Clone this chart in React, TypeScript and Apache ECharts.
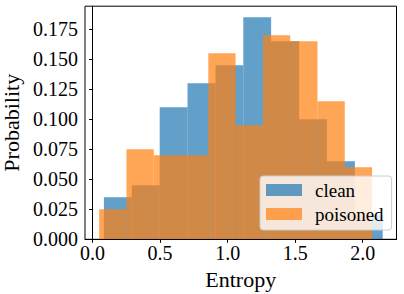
import React, { useEffect, useRef } from "react";
import * as echarts from "echarts";

// Histogram bin edges (Entropy) and bin heights (Probability)
const cleanEdges = [0.084, 0.290, 0.497, 0.703, 0.910, 1.116, 1.322, 1.529, 1.735, 1.942, 2.148];
const cleanValues = [0.035, 0.045, 0.110, 0.130, 0.145, 0.185, 0.165, 0.100, 0.065, 0.020];
const poisonedEdges = [0.049, 0.251, 0.453, 0.655, 0.857, 1.059, 1.261, 1.463, 1.665, 1.867, 2.069];
const poisonedValues = [0.025, 0.075, 0.070, 0.070, 0.155, 0.095, 0.170, 0.165, 0.115, 0.060];

const xTicks = [0.0, 0.5, 1.0, 1.5, 2.0];
const yTicks = [0.0, 0.025, 0.05, 0.075, 0.1, 0.125, 0.15, 0.175];

const FONT = "'Liberation Serif', 'Times New Roman', serif";

function binsOf(edges: number[], values: number[]) {
  return values.map((v, i) => [edges[i], edges[i + 1], v]);
}

function histSeries(name: string, color: string, edges: number[], values: number[]) {
  return {
    type: "custom",
    name,
    clip: true,
    itemStyle: { color },
    encode: { x: [0, 1], y: 2 },
    data: binsOf(edges, values),
    renderItem: (_params: any, api: any) => {
      const x0 = api.value(0);
      const x1 = api.value(1);
      const h = api.value(2);
      const pTop = api.coord([x0, h]);
      const pBot = api.coord([x1, 0]);
      return {
        type: "rect",
        shape: {
          x: pTop[0],
          y: pTop[1],
          width: pBot[0] - pTop[0],
          height: pBot[1] - pTop[1],
        },
        style: { fill: color },
      };
    },
  };
}

export default function App() {
  const ref = useRef<HTMLDivElement>(null);
  useEffect(() => {
    if (!ref.current) return;
    const chart = echarts.init(ref.current, undefined, { renderer: "svg" });
    chart.setOption({
      animation: false,
      backgroundColor: "#ffffff",
      grid: {
        left: 85,
        right: 7.5,
        top: 6.2,
        bottom: 54.7,
        containLabel: false,
        outerBoundsMode: "none",
        show: true,
        borderColor: "#000000",
        borderWidth: 1,
        backgroundColor: "transparent",
      },
      xAxis: {
        type: "value",
        min: -0.056,
        max: 2.25,
        name: "Entropy",
        nameLocation: "middle",
        nameGap: 24,
        nameTextStyle: { fontFamily: FONT, fontSize: 22, color: "#000" },
        axisLine: { show: true, onZero: false, lineStyle: { color: "#000", width: 1 } },
        axisTick: {
          show: true,
          length: 3.5,
          inside: false,
          customValues: xTicks,
          lineStyle: { color: "#000", width: 1 },
        },
        axisLabel: {
          customValues: xTicks,
          margin: 4,
          fontFamily: FONT,
          fontSize: 20,
          color: "#000",
          formatter: (v: number) => v.toFixed(1),
        },
        splitLine: { show: false },
      },
      yAxis: {
        type: "value",
        min: 0,
        max: 0.19425,
        name: "Probability",
        nameLocation: "middle",
        nameGap: 60,
        nameTextStyle: { fontFamily: FONT, fontSize: 22, color: "#000" },
        axisLine: { show: true, lineStyle: { color: "#000", width: 1 } },
        axisTick: {
          show: true,
          length: 3.5,
          inside: false,
          customValues: yTicks,
          lineStyle: { color: "#000", width: 1 },
        },
        axisLabel: {
          customValues: yTicks,
          margin: 7,
          fontFamily: FONT,
          fontSize: 20,
          color: "#000",
          formatter: (v: number) => v.toFixed(3),
        },
        splitLine: { show: false },
      },
      legend: {
        data: ["clean", "poisoned"],
        orient: "vertical",
        left: 260,
        top: 176,
        icon: "rect",
        itemWidth: 36,
        itemHeight: 12,
        itemGap: 4,
        padding: [4, 8, 6, 6],
        backgroundColor: "rgba(255,255,255,0.8)",
        borderColor: "#cccccc",
        borderWidth: 1,
        borderRadius: 3,
        textStyle: {
          fontFamily: FONT,
          fontSize: 19,
          color: "#000",
          lineHeight: 20,
          padding: [0, 0, 0, 8],
        },
      },
      series: [
        histSeries("clean", "rgba(31,119,180,0.7)", cleanEdges, cleanValues),
        histSeries("poisoned", "rgba(255,127,14,0.7)", poisonedEdges, poisonedValues),
      ],
    });
    return () => chart.dispose();
  }, []);
  return (
    <div
      ref={ref}
      style={{ position: "fixed", left: 0, top: 0, width: 404, height: 294 }}
    />
  );
}
